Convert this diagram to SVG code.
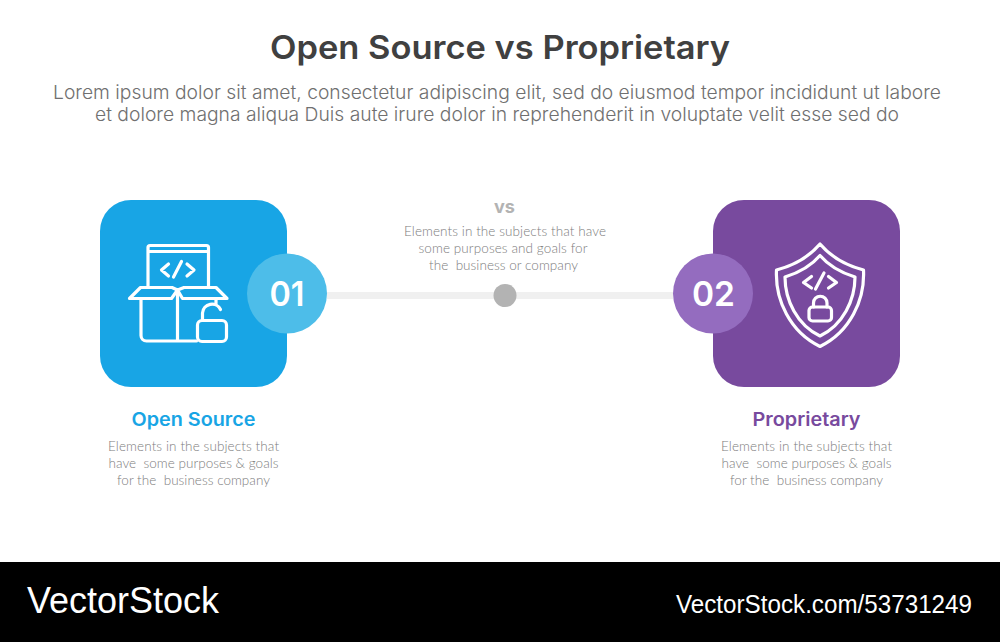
<svg xmlns="http://www.w3.org/2000/svg" width="1000" height="642" viewBox="0 0 1000 642">
<style>
text{text-anchor:middle}
.head{font-family:Inter,"Open Sans","Liberation Sans",sans-serif}
.body{font-family:Lato,"Open Sans","Liberation Sans",sans-serif;font-weight:300;font-size:13.5px;fill:#7d7d7d}
.num{font-family:Inter,"Liberation Sans",sans-serif;font-weight:600;font-size:34px;fill:#fff}
.ic{fill:none;stroke:#fff;stroke-width:3.200;stroke-linecap:round;stroke-linejoin:round}
.brand{font-family:"Liberation Sans",Arial,sans-serif;fill:#fff}
</style>
<rect width="1000" height="642" fill="#fff"/>
<g id="header">
<text class="head" x="500" y="59" font-size="33" font-weight="600" fill="#404040" textLength="460" lengthAdjust="spacingAndGlyphs">Open Source vs Proprietary</text>
<text class="head" x="497" y="98.500" font-size="18.500" font-weight="300" fill="#707070" textLength="888" lengthAdjust="spacingAndGlyphs">Lorem ipsum dolor sit amet, consectetur adipiscing elit, sed do eiusmod tempor incididunt ut labore</text>
<text class="head" x="497" y="120.500" font-size="18.500" font-weight="300" fill="#707070" textLength="804" lengthAdjust="spacingAndGlyphs">et dolore magna aliqua Duis aute irure dolor in reprehenderit in voluptate velit esse sed do</text>
</g>
<g id="connectors">
<line x1="327" y1="295.500" x2="673" y2="295.500" stroke="#f0f0f0" stroke-width="7"/>
</g>
<g id="node-vs">
<circle cx="505" cy="295.500" r="11.500" fill="#b3b3b3"/>
<text class="head" x="504.500" y="213" font-size="18" font-weight="700" fill="#b3b3b3" textLength="21" lengthAdjust="spacingAndGlyphs">vs</text>
<text class="body" x="505" y="236" textLength="202">Elements in the subjects that have</text>
<text class="body" x="503" y="253" textLength="169">some purposes and goals for</text>
<text class="body" x="503.500" y="270" xml:space="preserve" textLength="149">the  business or company</text>
</g>
<g id="node-open-source">
<rect x="100" y="200" width="187" height="187" rx="31" fill="#18a5e5"/>
<g class="ic">
<path d="M148 287V247.500a2 2 0 0 1 2-2h56.500a2 2 0 0 1 2 2V287M148 251.500h60.500"/>
<path d="M168.500 264l-7 6 7 6M187 264l7 6-7 6M173.500 277l8-15.500"/>
<path d="M177.500 290l-6 8.500h-42l11-11h31.500zM177.500 290l5 8.500h44.500l-11-11h-32z"/>
<path d="M141 298.500v37a5.500 5.500 0 0 0 5.500 5.500h50M177.500 290v51M216 298.500v5"/>
<rect x="197.500" y="320.500" width="29" height="21" rx="4.500"/>
<path d="M202.500 320v-7a9.500 9.500 0 0 1 18-3.500"/>
</g>
<circle cx="287" cy="293.500" r="40" fill="#4dbde9"/>
<text class="num" x="287" y="305.500" textLength="35" lengthAdjust="spacingAndGlyphs">01</text>
<text class="head" x="193.500" y="426" font-size="18.500" font-weight="600" fill="#18a5e5" textLength="124" lengthAdjust="spacingAndGlyphs">Open Source</text>
<text class="body" x="193.500" y="451" textLength="171">Elements in the subjects that</text>
<text class="body" x="193.500" y="468" xml:space="preserve" textLength="170">have  some purposes &amp; goals</text>
<text class="body" x="193.500" y="485" xml:space="preserve" textLength="153">for the  business company</text>
</g>
<g id="node-proprietary">
<rect x="713" y="200" width="187" height="187" rx="31" fill="#784a9e"/>
<g class="ic">
<path d="M820 244C808 258 792 266 776.500 270C775 300 790 332 820 346.500C850 332 865 300 863.500 270C848 266 832 258 820 244Z"/>
<path d="M820 255.500C811 266 798 273 785 277C785 300 797 325 820 336C843 325 855 300 855 277C842 273 829 266 820 255.500Z"/>
<path d="M811.500 276.500l-8 6 8 5.500M828.500 276.500l8 6-8 5.500M815.500 289l8.500-16"/>
<rect x="809" y="307" width="22.500" height="14" rx="3.500"/>
<path d="M813.500 307v-4a6.750 6.750 0 0 1 13.500 0v4"/>
</g>
<circle cx="713" cy="293.500" r="40" fill="#946cbf"/>
<text class="num" x="713.500" y="305.500" textLength="43" lengthAdjust="spacingAndGlyphs">02</text>
<text class="head" x="806.500" y="426" font-size="18.500" font-weight="600" fill="#784a9e" textLength="108" lengthAdjust="spacingAndGlyphs">Proprietary</text>
<text class="body" x="806.500" y="451" textLength="171">Elements in the subjects that</text>
<text class="body" x="806.500" y="468" xml:space="preserve" textLength="170">have  some purposes &amp; goals</text>
<text class="body" x="806.500" y="485" xml:space="preserve" textLength="153">for the  business company</text>
</g>
<g id="watermark">
<rect x="0" y="562" width="1000" height="80" fill="#000"/>
<text class="brand" x="123" y="613" font-size="37" textLength="192" lengthAdjust="spacingAndGlyphs">VectorStock</text>
<text class="brand" x="824" y="613" font-size="25" textLength="296" lengthAdjust="spacingAndGlyphs">VectorStock.com/53731249</text>
</g>
</svg>
